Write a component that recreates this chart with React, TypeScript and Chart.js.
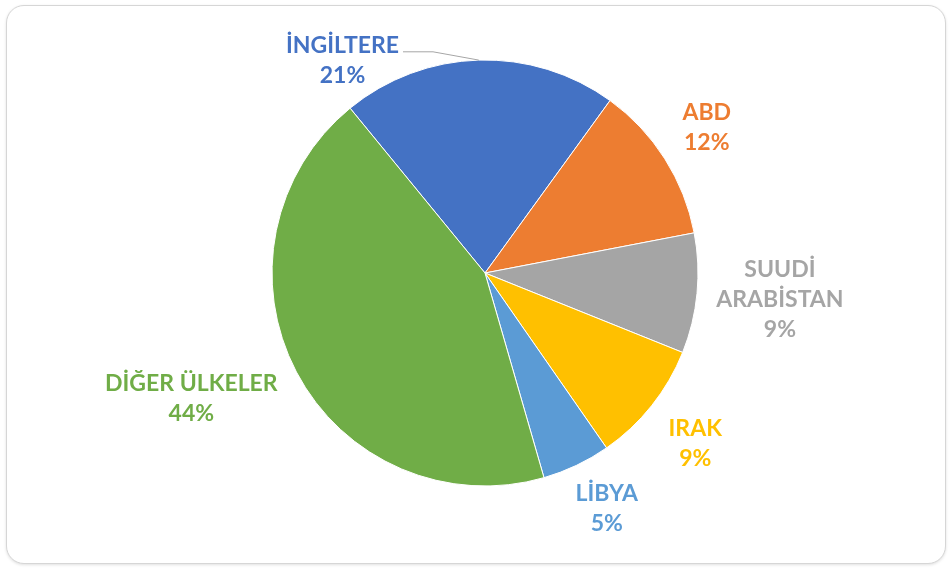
import React, { useEffect, useRef } from "react";
import { Chart, registerables } from "chart.js";

Chart.register(...registerables);

const categories = ["İNGİLTERE", "ABD", "SUUDİ\nARABİSTAN", "IRAK", "LİBYA", "DİĞER ÜLKELER"];
const shares = [20.9, 12.0, 9.1, 9.25, 5.2, 43.55];
const sliceColors = ["#4472C4", "#ED7D31", "#A5A5A5", "#FFC000", "#5B9BD5", "#70AD47"];

// label placement relative to each arc: distance as multiple of outer radius, angle shift in degrees
const labelDistance = [1.2, 1.245, 1.39, 1.27, 1.245, 1.5];
const labelAngleShift = [-32.2, -0.8, -0.45, 0.45, -1.9, 4.5];
const leaderLine = [true, false, false, false, false, false];

const FONT = "bold 23px Lato, 'Noto Sans', sans-serif";
const LINE_H = 30;

const labelPlugin = {
  id: "outsideLabels",
  afterDatasetsDraw(chart: any) {
    const meta = chart.getDatasetMeta(0);
    const ctx = chart.ctx as CanvasRenderingContext2D;
    const total = shares.reduce((a, b) => a + b, 0);
    ctx.save();
    ctx.font = FONT;
    ctx.textAlign = "center";
    ctx.textBaseline = "middle";
    meta.data.forEach((arc: any, i: number) => {
      const { x, y, startAngle, endAngle, outerRadius } = arc.getProps(
        ["x", "y", "startAngle", "endAngle", "outerRadius"],
        true
      );
      const mid = (startAngle + endAngle) / 2;
      const a = mid + (labelAngleShift[i] * Math.PI) / 180;
      const lx = x + Math.cos(a) * outerRadius * labelDistance[i];
      const ly = y + Math.sin(a) * outerRadius * labelDistance[i];
      const lines = categories[i].split("\n");
      lines.push(Math.round((shares[i] / total) * 100) + "%");
      const top = ly - ((lines.length - 1) * LINE_H) / 2;
      ctx.fillStyle = sliceColors[i];
      lines.forEach((t, k) => ctx.fillText(t, lx, top + k * LINE_H));
      if (leaderLine[i]) {
        const w = ctx.measureText(lines[0]).width;
        const sx = lx + w / 2 + 4;
        const sy = top + 6;
        const ex = x + Math.cos(mid) * outerRadius;
        const ey = y + Math.sin(mid) * outerRadius;
        ctx.strokeStyle = "#A6A6A6";
        ctx.lineWidth = 1;
        ctx.beginPath();
        ctx.moveTo(sx, sy);
        ctx.lineTo(sx + 30, sy);
        ctx.lineTo(ex, ey);
        ctx.stroke();
      }
    });
    ctx.restore();
  },
};

export default function App() {
  const ref = useRef<HTMLCanvasElement | null>(null);
  useEffect(() => {
    if (!ref.current) return;
    const chart = new Chart(ref.current, {
      type: "pie",
      data: {
        labels: categories.map((c) => c.replace("\n", " ")),
        datasets: [
          {
            data: shares,
            backgroundColor: sliceColors,
            borderColor: "#ffffff",
            borderWidth: 1,
          },
        ],
      },
      options: {
        animation: false,
        responsive: false,
        rotation: -39.3,
        radius: 213,
        layout: { padding: { left: 40, right: 22, top: 41, bottom: 63 } },
        plugins: {
          legend: { display: false },
          tooltip: { enabled: false },
        },
      },
      plugins: [labelPlugin],
    });
    return () => chart.destroy();
  }, []);

  return (
    <div style={{ position: "fixed", left: 0, top: 0, width: 952, height: 568, background: "#ffffff" }}>
      <div
        style={{
          position: "absolute",
          left: 6,
          top: 5,
          width: 940,
          height: 559,
          boxSizing: "border-box",
          border: "1.5px solid #d6d6d6",
          borderRadius: 18,
          boxShadow: "0 1px 3px rgba(0,0,0,0.12)",
          background: "#ffffff",
        }}
      />
      <canvas ref={ref} width={952} height={568} style={{ position: "absolute", left: 0, top: 0 }} />
    </div>
  );
}
